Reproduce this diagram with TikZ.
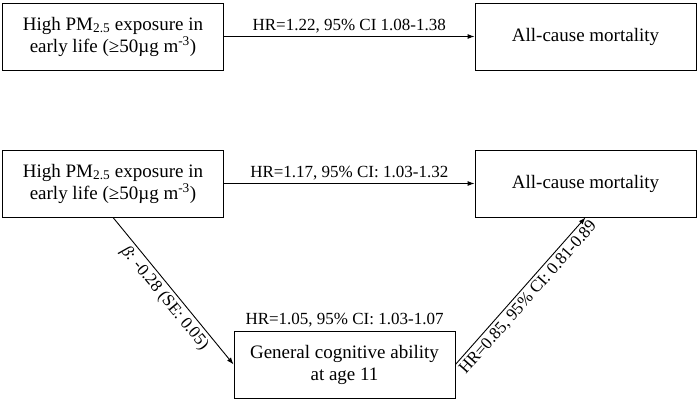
\documentclass[tikz,border=0pt]{standalone}
\usepackage{fontspec}
\setmainfont{Liberation Serif}
\usetikzlibrary{arrows.meta,positioning}

\tikzset{
  varbox/.style={draw, line width=0.9pt, minimum width=221pt, minimum height=67pt,
    align=center, inner sep=2pt, font=\fontsize{19}{22}\selectfont},
  hrlabel/.style={font=\fontsize{17}{19}\selectfont, inner sep=3pt},
  link/.style={line width=0.9pt, -{Latex[length=7pt,width=5pt]}}
}

\begin{document}
\begin{tikzpicture}[x=1pt,y=1pt]
  % Fix the page to the size of the figure
  \useasboundingbox (0,0) rectangle (698,401);

  % Total effect
  \node[varbox] (pmA) at (113,364.5) {High PM\textsubscript{2.5} exposure in\\early life (≥50µg m\textsuperscript{-3})};
  \node[varbox] (mortA) at (585.5,364.5) {All-cause mortality};
  \draw[link] (pmA) -- (mortA) node[hrlabel, midway, above] {HR=1.22, 95\% CI 1.08-1.38};

  % Mediation through cognitive ability
  \node[varbox] (pmB) at (113,217.5) {High PM\textsubscript{2.5} exposure in\\early life (≥50µg m\textsuperscript{-3})};
  \node[varbox] (mortB) at (585.5,217.5) {All-cause mortality};
  \node[varbox] (cog) at (344.5,36.5) {General cognitive ability\\at age 11};
  \node[hrlabel, above=0pt of cog.north] (cogHR) {HR=1.05, 95\% CI: 1.03-1.07};

  \draw[link] (pmB) -- (mortB) node[hrlabel, midway, above] {HR=1.17, 95\% CI: 1.03-1.32};
  \draw[link] (pmB.south) -- (cog.west) node[hrlabel, midway, below, sloped] {\textit{β}: -0.28 (SE: 0.05)};
  \draw[link] (cog.east) -- (mortB.south) node[hrlabel, midway, below, sloped] {HR=0.85, 95\% CI: 0.81-0.89};
\end{tikzpicture}
\end{document}
